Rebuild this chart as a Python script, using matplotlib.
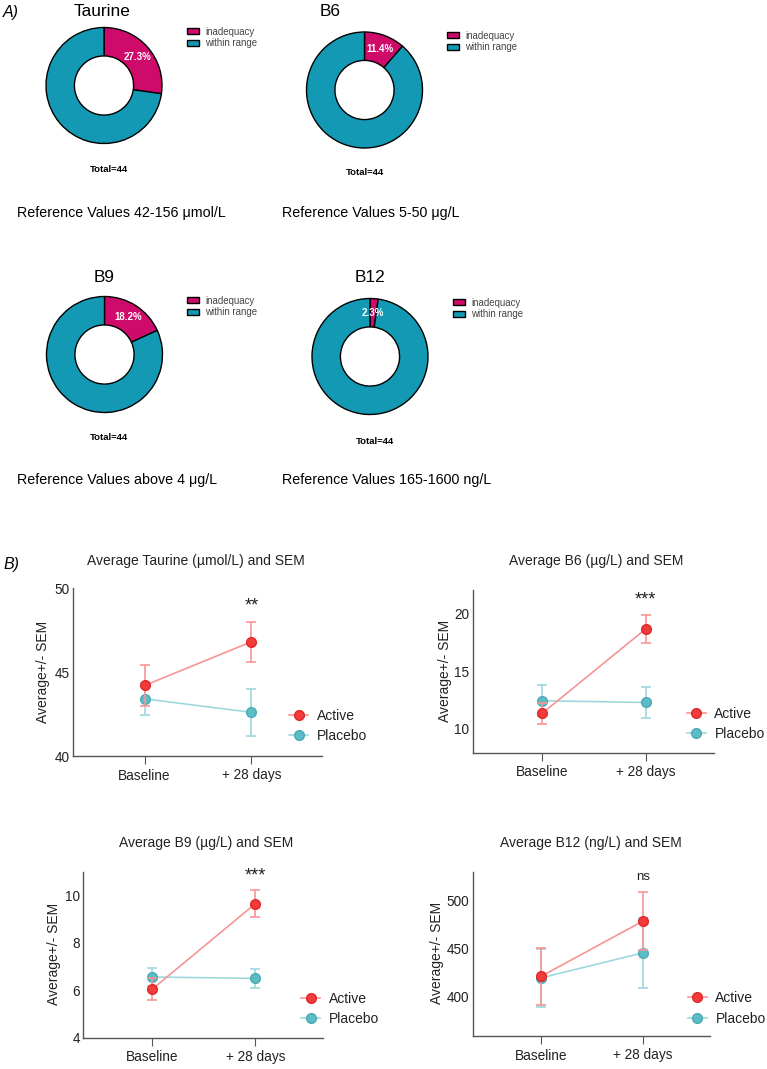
import matplotlib
matplotlib.use('Agg')
import matplotlib.pyplot as plt
from matplotlib.lines import Line2D

plt.rcParams['font.family'] = ['Liberation Sans', 'DejaVu Sans']

W, H = 767, 1069

# panel A data: inadequacy counts out of 44
nutrients = ['Taurine', 'B6', 'B9', 'B12']
total = 44
inadequate = [12, 5, 8, 1]
ref_texts = ['Reference Values 42-156 \u03bcmol/L', 'Reference Values 5-50 \u03bcg/L',
             'Reference Values above 4 \u03bcg/L', 'Reference Values 165-1600 ng/L']
pie_labels = ['inadequacy', 'within range']

# panel B data: mean and SEM at baseline and +28 days
timepoints = ['Baseline', '+ 28 days']
line_titles = ['Average Taurine (\u00b5mol/L) and SEM', 'Average B6 (\u00b5g/L) and SEM',
               'Average B9 (\u00b5g/L) and SEM', 'Average B12 (ng/L) and SEM']
active_mean = [[44.2, 46.8], [11.3, 18.7], [6.05, 9.65], [421, 478.5]]
active_sem = [[1.2, 1.2], [0.9, 1.25], [0.45, 0.58], [29.5, 30.5]]
placebo_mean = [[43.4, 42.6], [12.4, 12.25], [6.56, 6.5], [419.5, 445.5]]
placebo_sem = [[0.95, 1.4], [1.35, 1.35], [0.38, 0.4], [30.5, 36.5]]
signif = ['**', '***', '***', 'ns']

mag = '#CE0A6A'
teal = '#1399B3'
red = '#F23B3B'
red_l = '#F79595'
cyan = '#5CBDC6'
cyan_l = '#9ED8DE'


def fx(x):
    return x / W


def fy(y):
    return 1 - y / H


fig = plt.figure(figsize=(W / 100, H / 100), dpi=100)

fig.text(fx(3), fy(12), 'A)', fontsize=11.5, style='italic', va='center')
fig.text(fx(3), fy(564), 'B)', fontsize=11.5, style='italic', va='center')

# donut layout (pixel centres)
pie_pos = [(104, 85.5), (364.5, 90), (104.5, 354.5), (370, 356.5)]
title_pos = [(102, 12), (330, 12), (104, 277), (370, 277)]
leg_pos = [(182, 37.5), (442, 41.5), (182, 306.5), (448, 308.5)]
total_pos = [(109, 169), (365, 172), (109, 437), (375, 442)]
ref_pos = [(17, 213), (282, 213), (17, 480), (282, 480)]
R = 58

for i in range(4):
    cx, cy = pie_pos[i]
    r2 = R * 1.03
    ax = fig.add_axes([fx(cx - r2), fy(cy + r2), 2 * r2 / W, 2 * r2 / H])
    vals = [inadequate[i], total - inadequate[i]]
    wedges, _, autot = ax.pie(vals, colors=[mag, teal], startangle=90, counterclock=False,
                              radius=1, pctdistance=0.76,
                              autopct=lambda p: '%1.1f%%' % p if p < 50 else '',
                              wedgeprops=dict(width=0.49, edgecolor='black', linewidth=1))
    for t in autot:
        t.set_color('white')
        t.set_fontweight('bold')
        t.set_fontsize(7)
    ax.set_xlim(-1.03, 1.03)
    ax.set_ylim(-1.03, 1.03)
    ax.axis('off')
    fig.text(fx(title_pos[i][0]), fy(title_pos[i][1]), nutrients[i], fontsize=12.4,
             ha='center', va='center')
    ax.legend(wedges, pie_labels, loc='center left', bbox_to_anchor=(fx(leg_pos[i][0]), fy(leg_pos[i][1])),
              bbox_transform=fig.transFigure, frameon=False, fontsize=6.9, borderpad=0,
              handlelength=1.3, handleheight=0.55, handletextpad=0.6, labelspacing=0.2,
              labelcolor='#444444')
    fig.text(fx(total_pos[i][0]), fy(total_pos[i][1]), 'Total=%d' % total, fontsize=6.8,
             fontweight='bold', ha='center', va='center')
    fig.text(fx(ref_pos[i][0]), fy(ref_pos[i][1]), ref_texts[i], fontsize=10.3, va='center')

# line plots (pixel boxes: left, top, right, bottom)
boxes = [(73, 588, 322, 756), (472.7, 590, 714.3, 752.7),
         (83.3, 871.7, 323.3, 1037.7), (472.7, 871.7, 710, 1036)]
ylims = [(40, 50), (7.85, 22.1), (4, 11), (359, 530)]
yticks = [[40, 45, 50], [10, 15, 20], [4, 6, 8, 10], [400, 450, 500]]
sig_y = [48.9, 21.25, 10.84, 524.7]
ltitle_pos = [(196, 561), (596, 561), (206, 843), (591, 843)]
ylab_pos = [(43, 672), (445, 671), (54, 954), (437, 952.5)]
lleg_pos = [(298, 725.7), (695.7, 723.8), (310, 1009), (696.7, 1008.4)]

for i in range(4):
    l, t, r, b = boxes[i]
    ax = fig.add_axes([fx(l), fy(b), (r - l) / W, (b - t) / H])
    x = [0, 1]
    ax.errorbar(x, placebo_mean[i], yerr=placebo_sem[i], color=cyan_l, ecolor=cyan_l,
                elinewidth=1.2, capsize=3.5, capthick=1.2, lw=1.2, marker='o', ms=7,
                mfc=cyan, mec='#4AA9B3', zorder=2)
    ax.errorbar(x, active_mean[i], yerr=active_sem[i], color=red_l, ecolor=red_l,
                elinewidth=1.2, capsize=3.5, capthick=1.2, lw=1.2, marker='o', ms=7,
                mfc=red, mec='#E02828', zorder=3)
    ax.set_xlim(-0.67, 1.66)
    ax.set_ylim(*ylims[i])
    ax.set_yticks(yticks[i])
    ax.set_xticks(x)
    ax.set_xticklabels(timepoints)
    for s in ['top', 'right']:
        ax.spines[s].set_visible(False)
    for s in ['left', 'bottom']:
        ax.spines[s].set_color('#555555')
        ax.spines[s].set_linewidth(1)
    ax.tick_params(axis='both', labelsize=9.8, colors='#555555', labelcolor='#222222')
    ax.tick_params(axis='y', length=0, pad=2.5)
    ax.tick_params(axis='x', length=6, pad=3)
    ax.text(1, sig_y[i], signif[i], ha='center', va='center',
            fontsize=13 if signif[i] != 'ns' else 9.5, color='#222222')
    fig.text(fx(ltitle_pos[i][0]), fy(ltitle_pos[i][1]), line_titles[i], fontsize=10,
             ha='center', va='center', color='#222222')
    fig.text(fx(ylab_pos[i][0]), fy(ylab_pos[i][1]), 'Average+/- SEM', fontsize=10,
             rotation=90, ha='center', va='center', color='#222222')
    handles = [Line2D([], [], color=red_l, lw=1.2, marker='o', ms=7, mfc=red, mec='#E02828'),
               Line2D([], [], color=cyan_l, lw=1.2, marker='o', ms=7, mfc=cyan, mec='#4AA9B3')]
    ax.legend(handles, ['Active', 'Placebo'], loc='center left',
              bbox_to_anchor=(fx(lleg_pos[i][0] - 16), fy(lleg_pos[i][1])),
              bbox_transform=fig.transFigure, frameon=False, fontsize=10, borderpad=0,
              handlelength=1.4, handletextpad=0.6, labelspacing=0.45, labelcolor='#222222')

fig.savefig('out.png', dpi=100)
